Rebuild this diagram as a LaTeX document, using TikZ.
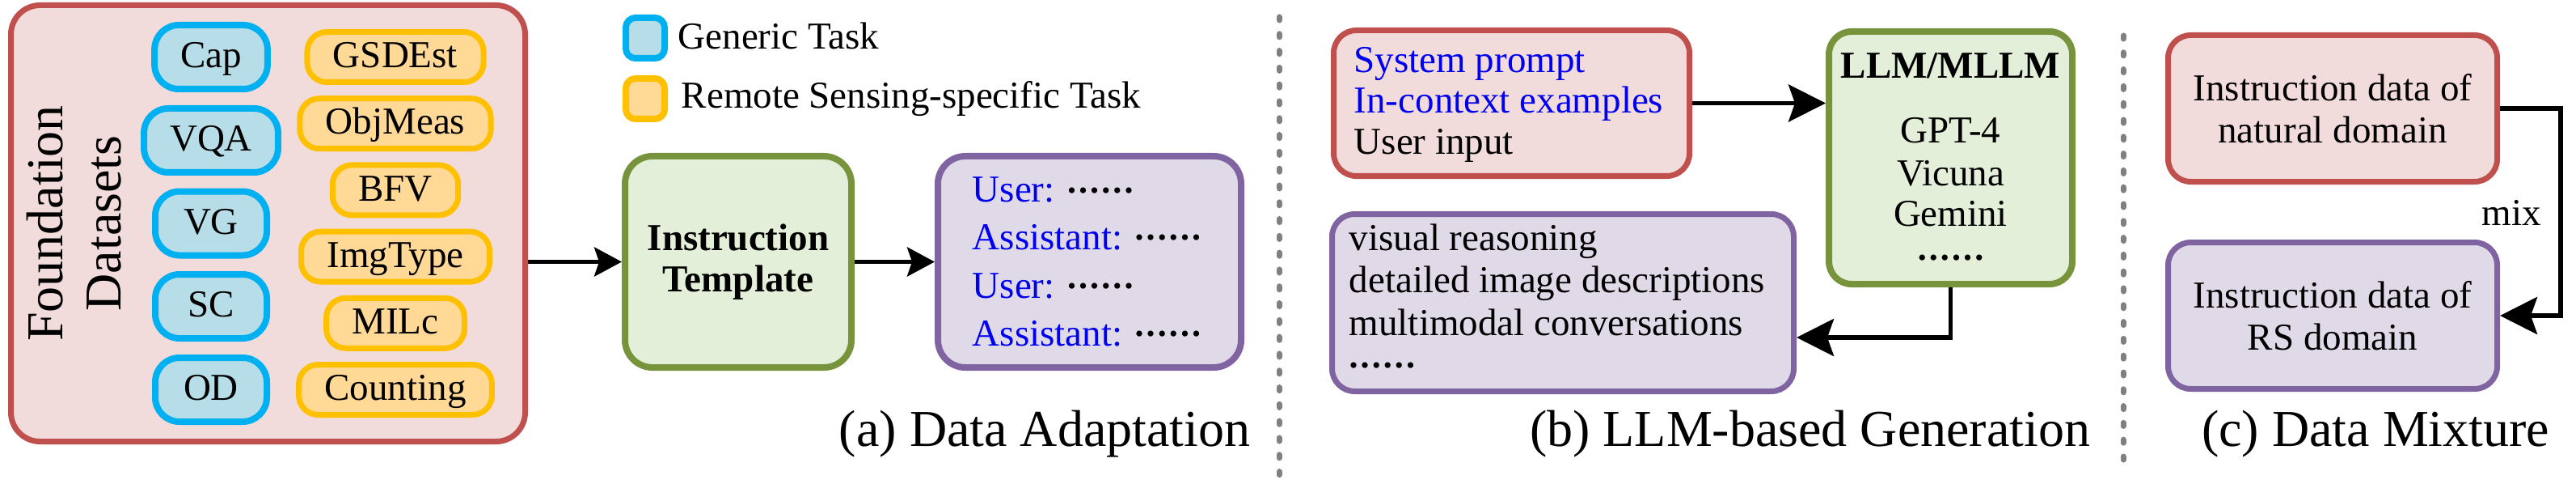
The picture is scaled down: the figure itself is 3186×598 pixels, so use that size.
\documentclass[tikz,border=0pt]{standalone}
\usepackage{fontspec}
\setmainfont{Liberation Serif}
\usetikzlibrary{arrows.meta}
\definecolor{fdred}{HTML}{C0504D}
\definecolor{fdpink}{HTML}{F2DCDB}
\definecolor{tkblue}{HTML}{00B0F0}
\definecolor{tkbluefill}{HTML}{B7DEE8}
\definecolor{tkorange}{HTML}{FFC000}
\definecolor{tkorangefill}{HTML}{FFD995}
\definecolor{grn}{HTML}{77933C}
\definecolor{grnfill}{HTML}{E4EFD9}
\definecolor{pur}{HTML}{8064A2}
\definecolor{purfill}{HTML}{E0DAE8}
\definecolor{txtblue}{HTML}{0000F0}
\definecolor{sepgray}{HTML}{808080}
\newcommand{\sixdots}{\raisebox{1.2pt}{\fontsize{7.5pt}{8pt}\selectfont •\kern0.9pt•\kern0.9pt•\kern0.9pt•\kern0.9pt•\kern0.9pt•}}
\begin{document}
\begin{tikzpicture}[x=0.25pt,y=-0.25pt,
  font=\fontsize{11.75pt}{13pt}\selectfont,
  bigbox/.style={rounded corners=7pt, line width=1.75pt, inner sep=0pt},
  redbox/.style={bigbox, draw=fdred, fill=fdpink},
  grnbox/.style={bigbox, draw=grn, fill=grnfill, line width=2pt},
  purbox/.style={bigbox, draw=pur, fill=purfill},
  bluebox/.style={draw=tkblue, fill=tkbluefill, line width=2pt, rounded corners=7.5pt,
    minimum width=34.5pt, minimum height=19.75pt, inner xsep=8pt, inner ysep=0pt,
    text height=0.66em, text depth=0pt},
  orangebox/.style={draw=tkorange, fill=tkorangefill, line width=1.75pt, rounded corners=6pt,
    minimum height=15.5pt, inner xsep=8pt, inner ysep=0pt,
    text height=0.66em, text depth=0pt},
  txt/.style={inner sep=0pt, anchor=base west, text height=0.68em, text depth=0.18em},
  ctxt/.style={inner sep=0pt, anchor=base, text height=0.68em, text depth=0.18em},
  captxt/.style={inner sep=0pt, anchor=base east, font=\fontsize{16pt}{19pt}\selectfont},
  arra/.style={line width=1.3pt, -{Stealth[length=8.5pt,width=9pt,inset=1.5pt]}},
  arrb/.style={line width=1.3pt, -{Stealth[length=11.5pt,width=11.5pt,inset=2pt]}},
  sepline/.style={draw=sepgray, line width=1.75pt, line cap=round, dash pattern=on 1pt off 4.2pt}
]
\useasboundingbox (0,0) rectangle (3186,598);

% ---------- (a) Data Adaptation ----------
\node[redbox, rounded corners=9pt, minimum width=159pt, minimum height=134.75pt] (F) at (331.5,276) {};
\node[inner sep=0pt, rotate=90, align=center, font=\fontsize{16pt}{18pt}\selectfont] (Ft) at (92,276) {Foundation\\Datasets};

\node[bluebox] (cap) at (261,70.5) {Cap};
\node[bluebox] (vqa) at (261,173.5) {VQA};
\node[bluebox] (vg) at (261,276) {VG};
\node[bluebox] (sc) at (261,378.5) {SC};
\node[bluebox] (od) at (261,481.5) {OD};

\node[orangebox] (gsd) at (489,70.5) {GSDEst};
\node[orangebox] (obj) at (489,152.7) {ObjMeas};
\node[orangebox] (bfv) at (489,234.9) {BFV};
\node[orangebox] (img) at (489,317.1) {ImgType};
\node[orangebox] (mil) at (489,399.3) {MILc};
\node[orangebox] (cnt) at (489,481.5) {Counting};

\node[draw=tkblue, fill=tkbluefill, line width=2pt, rounded corners=3pt, minimum width=12pt, minimum height=12.5pt, inner sep=0pt] (lb) at (798,47) {};
\node[draw=tkorange, fill=tkorangefill, line width=2pt, rounded corners=3pt, minimum width=12pt, minimum height=12.5pt, inner sep=0pt] (lo) at (798,122) {};
\node[txt] (lbt) at (838,61) {Generic Task};
\node[txt] (lot) at (842,134) {Remote Sensing-specific Task};

\node[grnbox, rounded corners=8.5pt, minimum width=70pt, minimum height=65.25pt, align=center, font=\fontsize{11.75pt}{12.75pt}\selectfont\bfseries] (T) at (913,323.5) {Instruction\\Template};
\node[purbox, line width=2pt, rounded corners=8.5pt, minimum width=93.75pt, minimum height=65.25pt] (P) at (1347.5,323.5) {};
\node[txt, text=txtblue] (u1) at (1202,250) {User: \textcolor{black}{\sixdots}};
\node[txt, text=txtblue] (a1) at (1202,308) {Assistant: \textcolor{black}{\sixdots}};
\node[txt, text=txtblue] (u2) at (1202,368) {User: \textcolor{black}{\sixdots}};
\node[txt, text=txtblue] (a2) at (1202,427) {Assistant: \textcolor{black}{\sixdots}};

\draw[arra] (F.east |- T.west) -- (T.west);
\draw[arra] (T.east) -- (P.west);

\node[captxt] (capa) at (1547,551) {(a) Data Adaptation};

% separators
\coordinate (s1t) at (1582,21);
\coordinate (s1b) at (1582,591);
\coordinate (s2t) at (2626,44);
\coordinate (s2b) at (2626,578);
\draw[sepline] (s1t) -- (s1b);
\draw[sepline] (s2t) -- (s2b);

% ---------- (b) LLM-based Generation ----------
\node[redbox, minimum width=110pt, minimum height=45pt] (R) at (1869.5,127.5) {};
\node[txt, text=txtblue] (r1) at (1674,90) {System prompt};
\node[txt, text=txtblue] (r2) at (1674,140) {In-context examples};
\node[txt] (r3) at (1674,191) {User input};

\node[grnbox, minimum width=75.25pt, minimum height=78pt] (G) at (2412.5,195) {};
\node[ctxt, font=\fontsize{11.75pt}{13pt}\selectfont\bfseries] (g1) at (2412.5,97) {LLM/MLLM};
\node[ctxt] (g2) at (2412.5,177) {GPT-4};
\node[ctxt] (g3) at (2412.5,229) {Vicuna};
\node[ctxt] (g4) at (2412.5,280) {Gemini};
\node[ctxt] (g5) at (2412.5,333) {\sixdots};

\node[purbox, minimum width=142.75pt, minimum height=54.75pt] (Q) at (1933,374) {};
\node[txt] (q1) at (1668,309) {visual reasoning};
\node[txt] (q2) at (1668,361) {detailed image descriptions};
\node[txt] (q3) at (1668,414) {multimodal conversations};
\node[txt] (q4) at (1668,466) {\sixdots};

\draw[arrb] (R.east) -- (R.east -| G.west);
\draw[arrb] (G.south) |- ([yshift=-10.75pt]Q.east);

\node[captxt] (capb) at (2586,551) {(b) LLM-based Generation};

% ---------- (c) Data Mixture ----------
\node[redbox, minimum width=101.75pt, minimum height=45.25pt, align=center] (N) at (2885,134) {Instruction data of\\natural domain};
\node[purbox, minimum width=101.75pt, minimum height=45.25pt, align=center] (S) at (2885,390) {Instruction data of\\RS domain};
\draw[arrb] (N.east) -- ++(75,0) |- (S.east);
\node[inner sep=0pt] (mix) at (3106,263) {mix};

\node[captxt] (capc) at (3154,551) {(c) Data Mixture};
\end{tikzpicture}
\end{document}
